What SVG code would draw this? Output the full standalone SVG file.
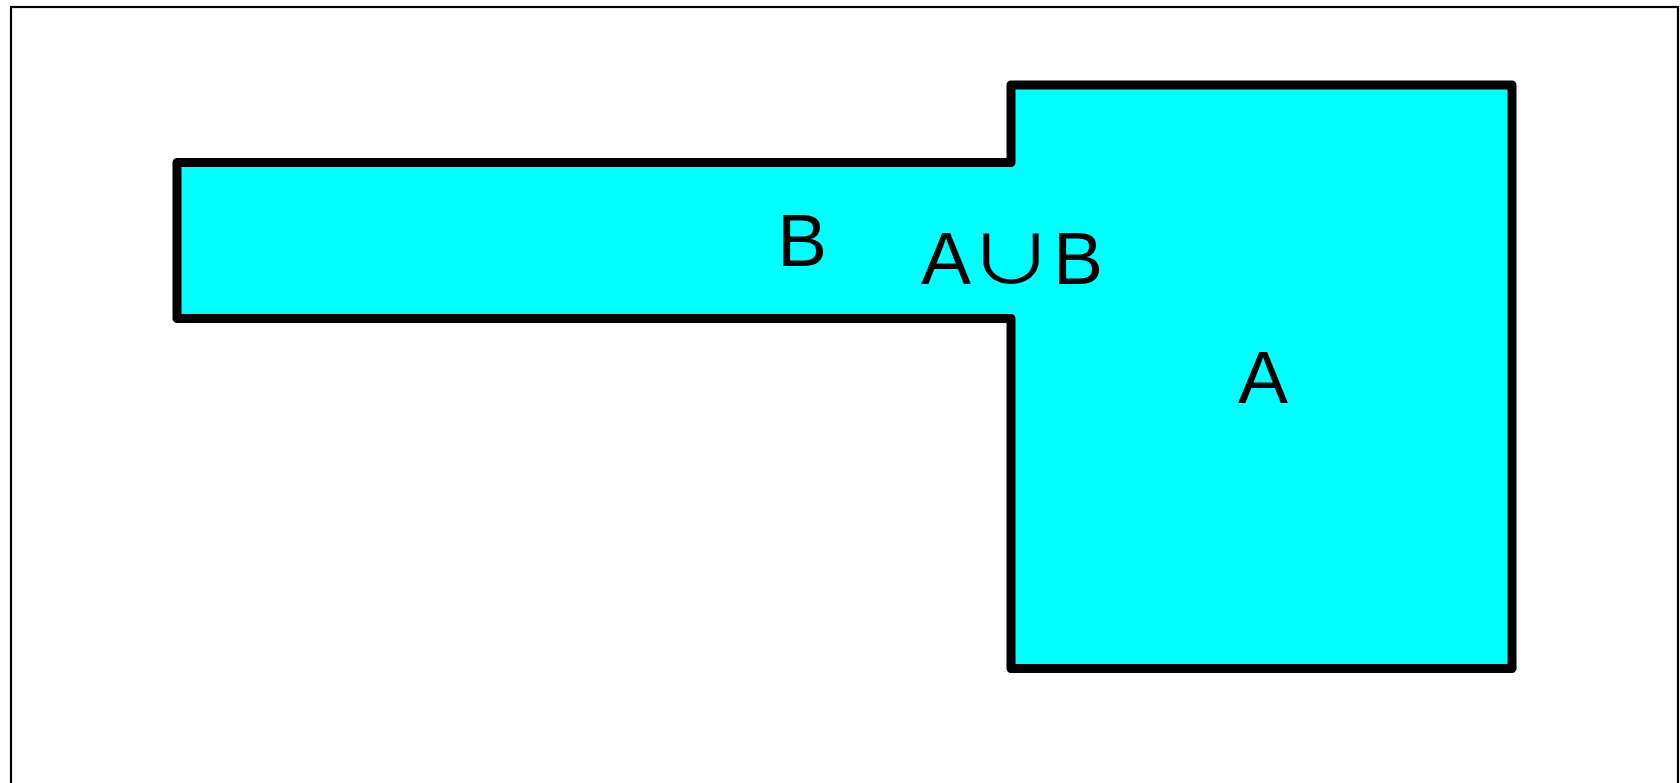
<svg xmlns="http://www.w3.org/2000/svg" width="1680" height="783" viewBox="0 0 1680 783">
<style>
.frame{fill:none;stroke:#000;stroke-width:2.2}
.region{fill:#00ffff;stroke:#000;stroke-width:9;stroke-linejoin:round}
.lbl{font-family:"Liberation Sans","DejaVu Sans",sans-serif;font-size:75px;fill:#000}
.cup{font-family:"Noto Sans CJK SC","DejaVu Sans",sans-serif;font-size:67px}
</style>
<rect class="frame" x="11" y="7" width="1667" height="800"/>
<g id="union">
<polygon class="region" points="177,162.5 1011,162.5 1011,85 1512,85 1512,668.5 1011,668.5 1011,318.5 177,318.5"/>
</g>
<g id="labels">
<text id="label-B" class="lbl" x="777" y="266">B</text>
<text id="label-AuB" class="lbl" y="284"><tspan x="921">A</tspan><tspan class="cup" x="968" textLength="86" lengthAdjust="spacingAndGlyphs">∪</tspan><tspan x="1053">B</tspan></text>
<text id="label-A" class="lbl" x="1238" y="403">A</text>
</g>
</svg>
